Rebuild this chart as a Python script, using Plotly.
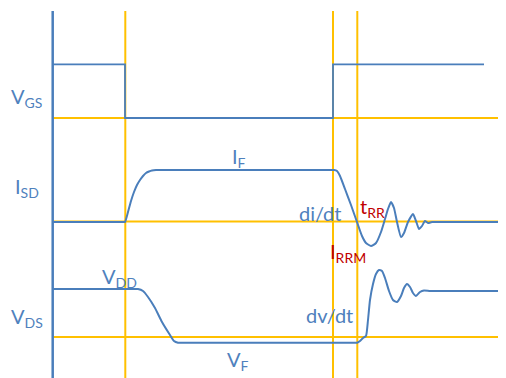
import plotly.graph_objects as go

# ---- data (time axis in diagram units, level axis in diagram units, downward) ----
# Guide lines (yellow)
guide_times = [125.3, 333.0, 357.3]
guide_levels = [118.0, 221.5, 337.0]
guide_top = 11.0
x_start = 52.7
x_end = 506.0
y_bottom = 378.0

# VGS waveform
vgs_t = [53, 125, 125, 333, 333, 484]
vgs_v = [64.3, 64.3, 118, 118, 64.3, 64.3]

# ISD waveform
isd_t = [53, 110, 120, 124, 125, 128, 131, 134, 137, 140, 143, 146, 149, 152, 156, 160, 170,
         320, 330, 334, 337, 340, 345, 351,
         357, 362, 366, 371, 376, 381, 385, 388, 391, 394, 397, 401, 404, 408, 413,
         416, 419, 422, 425, 428, 432, 440, 460, 501]
isd_v = [222, 222, 222, 222, 222, 212, 201, 192, 185, 180, 176, 173, 171.5, 170.5, 170, 170, 170,
         170, 170, 170, 171, 176, 189, 205,
         222, 236, 243, 246, 243, 232, 219, 209, 202, 208, 222, 237, 233, 222, 214,
         221, 229, 226, 221, 223, 222, 222, 222, 222]

# VDS waveform
vds_t = [53, 110, 130, 136, 138, 143, 148, 155, 162, 170, 174, 178, 182, 190, 330, 350, 354,
         357, 360, 363, 366, 368, 370, 373,
         376, 379, 382, 385, 389, 393, 397, 401, 404, 407, 410, 413, 416, 420, 424, 430,
         440, 460, 501]
vds_v = [289, 289, 289, 289, 289, 291, 297, 308, 322, 335, 341, 342.7, 342.7, 342.7, 342.7,
         342.7, 342.7, 342.7, 341, 338, 336, 320, 300, 284,
         274, 270, 271, 278, 291, 300, 302, 296, 288, 284, 287, 293, 296, 292, 290.5, 291,
         291, 291, 291]

# Labels: (text, x, y, color)
labels_text = ["V<sub>GS</sub>", "I<sub>SD</sub>", "V<sub>DS</sub>", "I<sub>F</sub>",
               "V<sub>DD</sub>", "V<sub>F</sub>", "di/dt", "dv/dt",
               "t<sub>RR</sub>", "I<sub>RRM</sub>"]
labels_x = [9, 13, 9, 230, 100, 225, 297, 304, 358, 328]
labels_y = [97, 187, 317, 157, 277, 360, 213, 315, 207, 252]
labels_color = ["#4F81BD"] * 8 + ["#C00000", "#C00000"]

BLUE = "#4A7EBB"
YELLOW = "#FFC000"

# page body has an 8px default margin; the figure starts at (8, 8)
PAGE_OFFSET = 8

fig = go.Figure()

# yellow horizontal guides
for lv in guide_levels:
    fig.add_trace(go.Scatter(x=[x_start, x_end], y=[lv, lv], mode="lines",
                             line=dict(color=YELLOW, width=2), hoverinfo="skip"))
# yellow vertical guides
for tt in guide_times:
    fig.add_trace(go.Scatter(x=[tt, tt], y=[guide_top, y_bottom], mode="lines",
                             line=dict(color=YELLOW, width=2), hoverinfo="skip"))

# axis line
fig.add_trace(go.Scatter(x=[x_start, x_start], y=[guide_top, y_bottom], mode="lines",
                         line=dict(color=BLUE, width=2.5), hoverinfo="skip"))

# waveforms
fig.add_trace(go.Scatter(x=vgs_t, y=vgs_v, mode="lines",
                         line=dict(color=BLUE, width=1.8), hoverinfo="skip"))
fig.add_trace(go.Scatter(x=isd_t, y=isd_v, mode="lines", line_shape="spline",
                         line=dict(color=BLUE, width=2, smoothing=0.5), hoverinfo="skip"))
fig.add_trace(go.Scatter(x=vds_t, y=vds_v, mode="lines", line_shape="spline",
                         line=dict(color=BLUE, width=2, smoothing=0.5), hoverinfo="skip"))

for txt, lx, ly, col in zip(labels_text, labels_x, labels_y, labels_color):
    fig.add_annotation(x=lx, y=ly, text=txt, showarrow=False, xanchor="left",
                       yanchor="middle",
                       font=dict(family="Lato, Carlito, Calibri, sans-serif", size=20, color=col))

fig.update_layout(
    width=506 - PAGE_OFFSET, height=378 - PAGE_OFFSET,
    margin=dict(l=0, r=0, t=0, b=0),
    paper_bgcolor="white", plot_bgcolor="white",
    showlegend=False,
    xaxis=dict(range=[PAGE_OFFSET, 506], visible=False, fixedrange=True),
    yaxis=dict(range=[378, PAGE_OFFSET], visible=False, fixedrange=True),
)

fig.write_html("out.html", config={"displayModeBar": False})
